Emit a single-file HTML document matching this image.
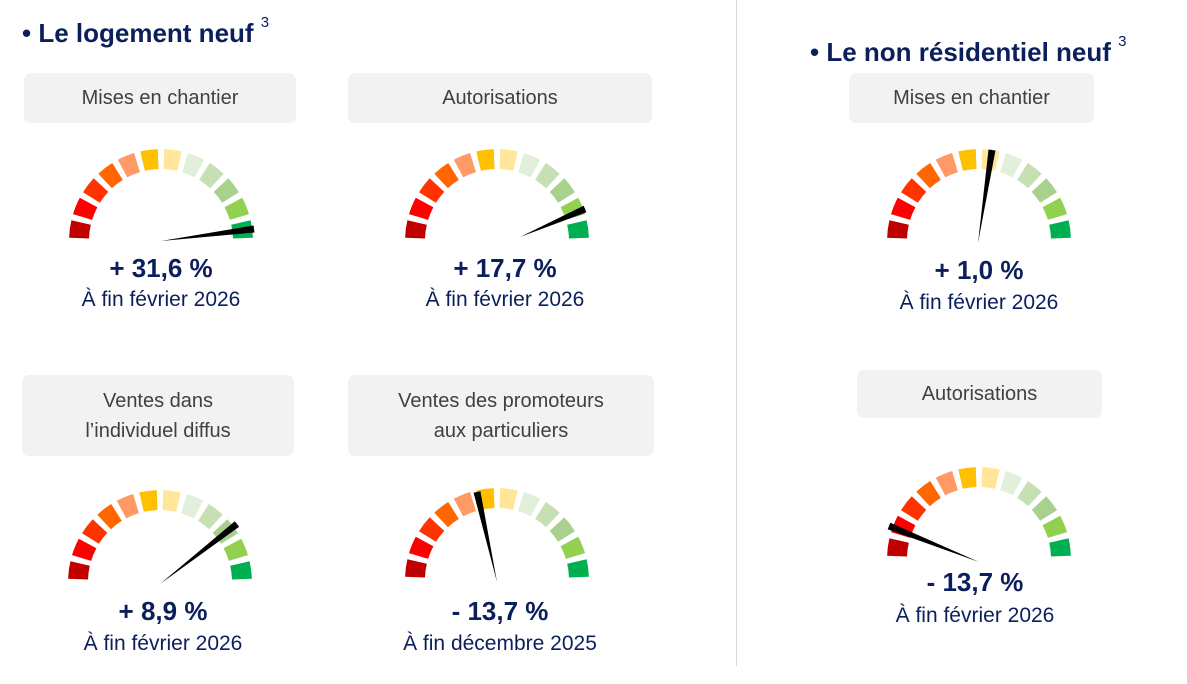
<!DOCTYPE html>
<html><head><meta charset="utf-8"><style>
body{margin:0;width:1187px;height:684px;background:#fff;position:relative;overflow:hidden;font-family:"Liberation Sans",sans-serif}
.h{position:absolute;color:#0b1f5c;font-weight:bold;font-size:26px;white-space:nowrap}
.h sup{font-weight:normal;font-size:15px;vertical-align:top;position:relative;top:-4px}
.box{position:absolute;background:#f2f2f2;border-radius:7px;color:#404040;font-size:20px;display:flex;align-items:center;justify-content:center;text-align:center;line-height:30px}
.v{position:absolute;color:#0b1f5c;font-weight:bold;font-size:26px;text-align:center;width:300px;white-space:nowrap}
.s{position:absolute;color:#0b1f5c;font-size:21px;text-align:center;width:300px;white-space:nowrap}
svg{position:absolute;left:0;top:0}
</style></head><body>
<div style="position:absolute;left:736px;top:0;width:1px;height:666px;background:#d9d9d9"></div>
<div class="h" style="left:22px;top:18px">• Le logement neuf <sup>3</sup></div>
<div class="h" style="left:810px;top:37px">• Le non résidentiel neuf <sup>3</sup></div>
<div class="box" style="left:24px;top:73px;width:272px;height:50px">Mises en chantier</div>
<div class="box" style="left:348px;top:73px;width:304px;height:50px">Autorisations</div>
<div class="box" style="left:849px;top:73px;width:245px;height:50px">Mises en chantier</div>
<div class="box" style="left:857px;top:370px;width:245px;height:48px">Autorisations</div>
<div class="box" style="left:22px;top:375px;width:272px;height:81px">Ventes dans<br>l’individuel diffus</div>
<div class="box" style="left:348px;top:375px;width:306px;height:81px">Ventes des promoteurs<br>aux particuliers</div>
<div class="v" style="left:11px;top:253px">+ 31,6 %</div><div class="s" style="left:11px;top:288px">À fin février 2026</div>
<div class="v" style="left:355px;top:253px">+ 17,7 %</div><div class="s" style="left:355px;top:288px">À fin février 2026</div>
<div class="v" style="left:829px;top:255px">+ 1,0 %</div><div class="s" style="left:829px;top:291px">À fin février 2026</div>
<div class="v" style="left:13px;top:596px">+ 8,9 %</div><div class="s" style="left:13px;top:632px">À fin février 2026</div>
<div class="v" style="left:350px;top:596px">- 13,7 %</div><div class="s" style="left:350px;top:632px">À fin décembre 2025</div>
<div class="v" style="left:825px;top:567px">- 13,7 %</div><div class="s" style="left:825px;top:604px">À fin février 2026</div>
<svg id="g" width="1187" height="684"></svg>
<script>
var cols=["#c00000","#ff0000","#ff3300","#ff6600","#ff9966","#ffc000","#ffe699","#e2efda","#c6e0b4","#a9d18e","#92d050","#00b050"];
var gs=[[161,241,[161,241],[254,229]],[497,241,[520,237],[585,209]],[979,241,[978,243],[992,150]],[160,582,[160,584],[237,524]],[497,580,[497,582],[477,492]],[979,559,[979,562],[889,526]]];
var R=92,r=72,s="";
function p(cx,cy,rad,a){return (cx+rad*Math.cos(a)).toFixed(1)+","+(cy-rad*Math.sin(a)).toFixed(1)}
gs.forEach(function(g){var cx=g[0],cy=g[1];
for(var i=0;i<12;i++){var a1=Math.PI-(i*15+2)*Math.PI/180,a2=Math.PI-(i*15+13)*Math.PI/180;
s+='<path fill="'+cols[i]+'" d="M'+p(cx,cy,R,a1)+' A'+R+','+R+' 0 0 1 '+p(cx,cy,R,a2)+' L'+p(cx,cy,r,a2)+' A'+r+','+r+' 0 0 0 '+p(cx,cy,r,a1)+'Z"/>';}
var a=g[2],b=g[3],dx=b[0]-a[0],dy=b[1]-a[1],L=Math.hypot(dx,dy),nx=-dy/L*3.5,ny=dx/L*3.5;
s+='<polygon fill="#000" points="'+a[0]+','+a[1]+' '+(b[0]+nx)+','+(b[1]+ny)+' '+(b[0]-nx)+','+(b[1]-ny)+'"/>';});
document.getElementById('g').innerHTML=s;
</script>
</body></html>
